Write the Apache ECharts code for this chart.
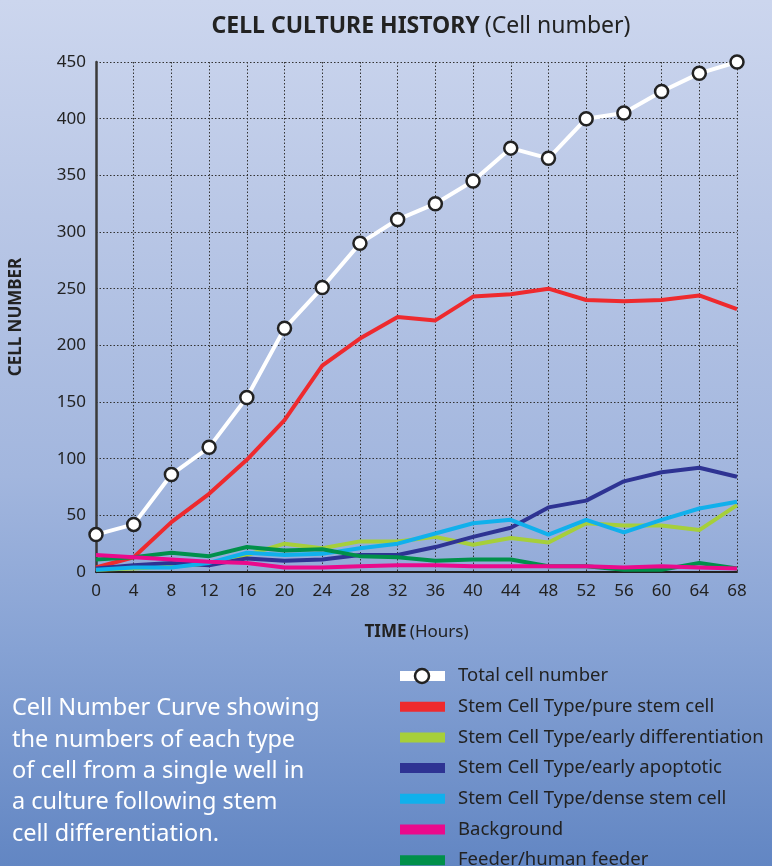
<!DOCTYPE html>
<html>
<head>
<meta charset="utf-8">
<script src="https://cdn.jsdelivr.net/npm/echarts@6/dist/echarts.min.js"></script>
<style>
html,body{margin:0;padding:0;}
#chart{width:772px;height:866px;background:linear-gradient(to bottom,#ccd6ee 0%,#b9c7e6 25%,#a2b6de 55%,#86a2d4 75%,#6286c3 100%);}
</style>
</head>
<body>
<div id="chart"></div>
<script>
const hours = [0,4,8,12,16,20,24,28,32,36,40,44,48,52,56,60,64,68];
const yTicks = [0,50,100,150,200,250,300,350,400,450];
const totalCells   = [33,42,86,110,154,215,251,290,311,325,345,374,365,400,405,424,440,450];
const pureStem     = [4,13,44,69,99,134,182,206,225,222,243,245,250,240,239,240,244,232];
const earlyDiff    = [2,3,5,7,15,25,21,27,27,31,24,30,26,43,41,41,37,59];
const earlyApopt   = [3,6,8,6,12,10,11,15,15,22,31,39,57,63,80,88,92,84];
const denseStem    = [2,4,4,8,17,15,16,21,25,34,43,46,33,46,35,46,56,62];
const background   = [15,13,11,9,8,4,4,5,6,6,5,5,5,5,4,5,4,3];
const feeder       = [11,13,17,14,22,19,20,14,13,10,11,11,5,5,2,2,8,3];
const seriesNames = ['Total cell number','Stem Cell Type/pure stem cell','Stem Cell Type/early differentiation','Stem Cell Type/early apoptotic','Stem Cell Type/dense stem cell','Background','Feeder/human feeder'];
const seriesColors = ['#ffffff','#ee2a2e','#a6cf3a','#2e3393','#10b0ec','#ea0a8c','#00904a'];
const seriesZ = [12,4,5,6,7,9,8];
const seriesData = [totalCells,pureStem,earlyDiff,earlyApopt,denseStem,background,feeder];

const chart = echarts.init(document.getElementById('chart'), null, {renderer:'canvas'});
const pair = arr => arr.map((v,i)=>[hours[i],v]);

const series = seriesData.map((arr,i)=>{
  const s = {
    name: seriesNames[i], type:'line', data: pair(arr),
    lineStyle:{color:seriesColors[i], width:4},
    itemStyle:{color:seriesColors[i]},
    symbol:'none', z: seriesZ[i]
  };
  if(i===0){
    s.symbol='circle'; s.symbolSize=13;
    s.itemStyle={color:'#ffffff', borderColor:'#222', borderWidth:2.5};
    s.lineStyle={color:'#ffffff', width:4};
  }
  return s;
});

chart.setOption({
  animation:false,
  backgroundColor:'transparent',
  title:{
    text:'{b|CELL CULTURE HISTORY} {n|(Cell number)}',
    left:416, top:10, textAlign:'center',
    textStyle:{rich:{
      b:{fontFamily:'Noto Sans', fontWeight:'bold', fontSize:23, color:'#222'},
      n:{fontFamily:'Noto Sans', fontWeight:'normal', fontSize:23, color:'#222'}
    }}
  },
  grid:{left:95, right:35, top:62, bottom:294, containLabel:false},
  xAxis:{
    type:'value', min:0, max:68, interval:4,
    name:'{b|TIME} {n|(Hours)}', nameLocation:'middle', nameGap:52,
    nameTextStyle:{rich:{
      b:{fontFamily:'Noto Sans', fontWeight:'bold', fontSize:17, color:'#222'},
      n:{fontFamily:'Noto Sans', fontSize:17, color:'#222'}
    }},
    axisLine:{show:true, onZero:false, lineStyle:{color:'#222', width:2}},
    axisTick:{show:false},
    axisLabel:{fontFamily:'Noto Sans', fontSize:17, color:'#222', margin:11},
    splitLine:{show:true, lineStyle:{color:'#333', width:1, type:[1.5,2]}}
  },
  yAxis:{
    type:'value', min:0, max:450, interval:50,
    name:'CELL NUMBER', nameLocation:'middle', nameGap:71, nameRotate:90,
    nameTextStyle:{fontFamily:'Noto Sans', fontWeight:'bold', fontSize:17, color:'#222'},
    axisLine:{show:true, lineStyle:{color:'#3a3a3a', width:2.5}},
    axisTick:{show:false},
    axisLabel:{fontFamily:'Noto Sans', fontSize:17, color:'#222', margin:10},
    splitLine:{show:true, lineStyle:{color:'#333', width:1, type:[1.5,2]}}
  },
  legend:{
    orient:'vertical', left:400, top:666, height:260, padding:0,
    itemWidth:45, itemHeight:10, itemGap:10.7,
    textStyle:{fontFamily:'Noto Sans', fontSize:18.5, lineHeight:20, color:'#222', padding:[0,0,0,8]},
    data: seriesNames.map((n,i)=> i===0 ? {name:n, icon:'rect', itemStyle:{color:'#fff', borderWidth:0}} : {name:n, icon:'rect'})
  },
  graphic:[
    {type:'circle', shape:{cx:422, cy:676, r:7}, style:{fill:'#fff', stroke:'#222', lineWidth:2.5}, z:101},
    {type:'text', left:12, top:693, z:100,
     style:{text:'Cell Number Curve showing\nthe numbers of each type\nof cell from a single well in\na culture following stem\ncell differentiation.',
       fill:'#ffffff', font:'23.5px "Noto Sans"', lineHeight:31.3}}
  ],
  series: series
});
</script>
</body>
</html>
